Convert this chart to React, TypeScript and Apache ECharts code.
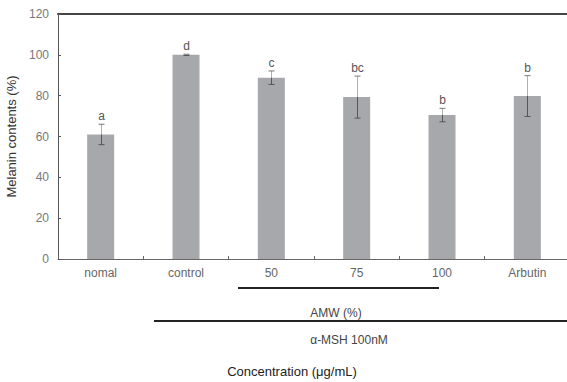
import React, { useEffect, useRef } from "react";
import * as echarts from "echarts";

const categories = ["nomal", "control", "50", "75", "100", "Arbutin"];
const meanValues = [61, 100, 88.8, 79.3, 70.5, 79.8];
const errorValues = [5, 0.3, 3.3, 10.3, 3.3, 10];
const groupLetters = ["a", "d", "c", "bc", "b", "b"];
const yMin = 0;
const yMax = 120;
const yStep = 20;

const FONT = "'Liberation Sans', Arial, sans-serif";

export default function App() {
  const ref = useRef<HTMLDivElement>(null);

  useEffect(() => {
    if (!ref.current) return;
    const chart = echarts.init(ref.current, undefined, { renderer: "svg" });
    const errData = categories.map((_, i) => [i, meanValues[i], errorValues[i]]);

    chart.setOption({
      animation: false,
      backgroundColor: "#ffffff",
      grid: {
        left: 58,
        top: 14,
        right: -3,
        bottom: 123,
        outerBoundsMode: "none",
        containLabel: false,
      },
      xAxis: [
        {
          type: "category",
          data: categories,
          boundaryGap: true,
          axisLine: { show: true, lineStyle: { color: "#666", width: 1 } },
          axisTick: { show: true, inside: true, length: 3, lineStyle: { color: "#666" } },
          axisLabel: { color: "#666", fontSize: 12, fontFamily: FONT, margin: 8 },
          splitLine: { show: false },
        },
        {
          type: "category",
          data: categories,
          position: "top",
          axisLine: { show: true, lineStyle: { color: "#444", width: 2 } },
          axisTick: { show: false },
          axisLabel: { show: false },
          splitLine: { show: false },
        },
      ],
      yAxis: {
        type: "value",
        min: yMin,
        max: yMax,
        interval: yStep,
        name: "Melanin contents (%)",
        nameLocation: "middle",
        nameGap: 37,
        nameRotate: 90,
        nameTextStyle: { color: "#333", fontSize: 13, fontFamily: FONT },
        axisLine: { show: true, lineStyle: { color: "#555", width: 1 } },
        axisTick: { show: true, inside: true, length: 3, lineStyle: { color: "#555" } },
        axisLabel: { color: "#777", fontSize: 12, fontFamily: FONT, margin: 9 },
        splitLine: { show: false },
      },
      series: [
        {
          type: "bar",
          data: meanValues,
          barWidth: 27,
          itemStyle: { color: "#a7a8ab" },
          silent: true,
        },
        {
          type: "custom",
          data: errData,
          silent: true,
          z: 10,
          itemStyle: { color: "#555" },
          renderItem: (params: any, api: any) => {
            const idx = params.dataIndex;
            const i = api.value(0);
            const v = api.value(1);
            const e = api.value(2);
            const top = api.coord([i, v + e]);
            const mid = api.coord([i, v]);
            const bot = api.coord([i, v - e]);
            const x = Math.round(top[0]) + 0.5;
            const hw = 3;
            return {
              type: "group",
              children: [
                {
                  type: "line",
                  shape: { x1: x, y1: top[1], x2: x, y2: mid[1] },
                  style: { stroke: "#b0b0b0", lineWidth: 1 },
                },
                {
                  type: "line",
                  shape: { x1: x, y1: mid[1], x2: x, y2: bot[1] },
                  style: { stroke: "#555", lineWidth: 1 },
                },
                {
                  type: "line",
                  shape: { x1: x - hw, y1: top[1], x2: x + hw, y2: top[1] },
                  style: { stroke: "#777", lineWidth: 1 },
                },
                {
                  type: "line",
                  shape: { x1: x - hw, y1: bot[1], x2: x + hw, y2: bot[1] },
                  style: { stroke: "#555", lineWidth: 1 },
                },
                {
                  type: "text",
                  x: x,
                  y: top[1] - 2,
                  style: {
                    text: groupLetters[idx],
                    align: "center",
                    verticalAlign: "bottom",
                    fill: "#555555",
                    fontSize: 12,
                    fontFamily: FONT,
                  },
                },
              ],
            };
          },
        },
      ],
      graphic: [
        {
          type: "line",
          shape: { x1: 238, y1: 288, x2: 439, y2: 288 },
          style: { stroke: "#222", lineWidth: 2 },
        },
        {
          type: "text",
          x: 336,
          y: 313,
          style: {
            text: "AMW (%)",
            align: "center",
            verticalAlign: "middle",
            fill: "#444",
            fontSize: 12,
            fontFamily: FONT,
          },
        },
        {
          type: "line",
          shape: { x1: 154, y1: 321, x2: 570, y2: 321 },
          style: { stroke: "#222", lineWidth: 2 },
        },
        {
          type: "text",
          x: 349,
          y: 340,
          style: {
            text: "α-MSH 100nM",
            align: "center",
            verticalAlign: "middle",
            fill: "#444",
            fontSize: 12,
            fontFamily: FONT,
          },
        },
        {
          type: "text",
          x: 292,
          y: 371,
          style: {
            text: "Concentration (μg/mL)",
            align: "center",
            verticalAlign: "middle",
            fill: "#222",
            fontSize: 13,
            fontFamily: FONT,
          },
        },
      ],
    });

    return () => {
      chart.dispose();
    };
  }, []);

  return (
    <div
      ref={ref}
      style={{ position: "fixed", left: 0, top: 0, width: 567, height: 382, background: "#fff" }}
    />
  );
}
